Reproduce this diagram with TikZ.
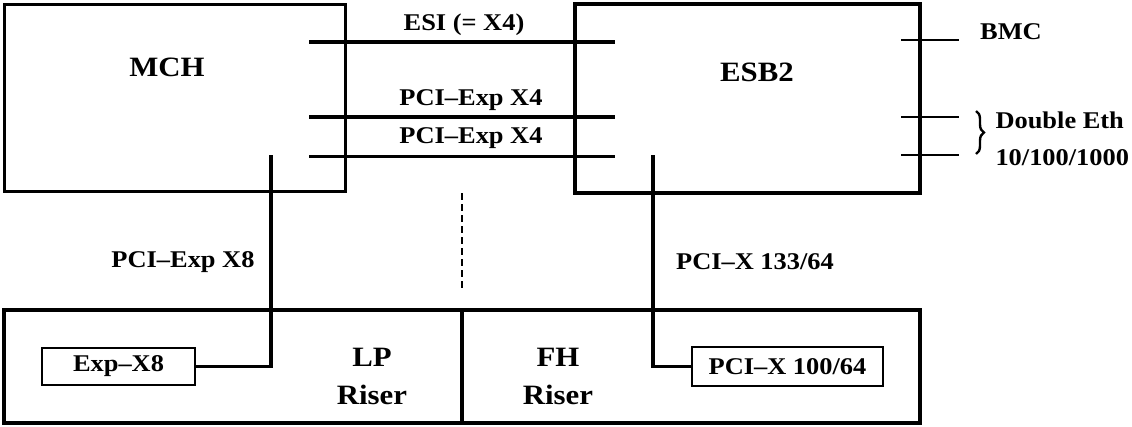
\documentclass[tikz,border=0pt]{standalone}
\usepackage{fontspec}
\setmainfont{Liberation Serif}[FakeStretch=1.1]
\usetikzlibrary{calc,decorations.pathreplacing,positioning}
\tikzset{
  chip/.style={draw, line width=3.5pt, inner sep=0pt},
  card/.style={draw, line width=2pt, inner sep=0pt, font=\bfseries\fontsize{24}{28}\selectfont},
  chip label/.style={font=\bfseries\fontsize{28}{38}\selectfont, align=center},
  bus label/.style={font=\bfseries\fontsize{24}{28}\selectfont},
  bus/.style={line width=3.5pt},
  thin bus/.style={line width=2pt},
}

\begin{document}
\begin{tikzpicture}[x=1pt, y=-1pt]
  \useasboundingbox (0,0) rectangle (1132,426);

  % Chips
  \node[chip, minimum width=341pt, minimum height=187pt] (mch) at (175,98) {};
  \node[chip, minimum width=345pt, minimum height=189pt] (esb) at (747.5,98.5) {};
  \node[chip label] (mchname) at (167,67) {MCH};
  \node[chip label] (esbname) at (757,72) {ESB2};

  % Riser board, split in two halves
  \node[chip, minimum width=458pt, minimum height=113pt] (lp) at (233,366.5) {};
  \node[chip, minimum width=458pt, minimum height=113pt] (fh) at (691,366.5) {};
  \node[chip label] (lpname) at (372,376) {LP\\Riser};
  \node[chip label] (fhname) at (558,376) {FH\\Riser};

  % Slots on the risers
  \node[card, minimum width=153pt, minimum height=37pt] (expslot) at (118.5,366.5) {Exp--X8};
  \node[card, minimum width=191pt, minimum height=39pt] (pcixslot) at (787.5,366.5) {PCI--X 100/64};

  % Links between MCH and ESB2
  \coordinate (esiL) at (309,42);   \coordinate (esiR) at (615,42);
  \coordinate (pcieL) at (309,117); \coordinate (pcieR) at (615,117);
  \coordinate (pcieL') at (309,156); \coordinate (pcieR') at (615,156);
  \draw[bus] (esiL) -- (esiR);
  \draw[bus] (pcieL) -- (pcieR);
  \draw[bus, line width=3pt] (pcieL') -- (pcieR');
  \node[bus label] (esilabel) at (464,25) {ESI (= X4)};
  \node[bus label] (pcielabel) at (471,100) {PCI--Exp X4};
  \node[bus label] (pcielabel') at (471,138) {PCI--Exp X4};

  % Links down to the slots
  \coordinate (mchdown) at (271,155);
  \coordinate (esbdown) at (653,155);
  \draw[bus] (mchdown) |- (expslot.east);
  \draw[bus] (esbdown) |- (pcixslot.west);
  \node[bus label] (x8label) at (183,262) {PCI--Exp X8};
  \node[bus label] (pcixlabel) at (755,262) {PCI--X 133/64};

  % Dashed divider
  \coordinate (cutT) at (462,193);
  \coordinate (cutB) at (462,290);
  \draw[line width=1.8pt, dash pattern=on 7pt off 4pt] (cutT) -- (cutB);

  % Outputs on the right of ESB2
  \foreach \name/\yy in {bmc/40, ethA/117, ethB/155} {
    \coordinate (\name L) at (901,\yy);
    \coordinate (\name R) at (959,\yy);
    \draw[thin bus] (\name L) -- (\name R);
  }
  \node[bus label] (bmclabel) at (1011,32) {BMC};
  \coordinate (braceT) at (976,111);
  \coordinate (braceB) at (976,154);
  \draw[line width=2.4pt, decorate, decoration={brace, amplitude=8pt}] (braceT) -- (braceB);
  \node[bus label, anchor=west] (ethlabel) at (992,120) {Double Eth};
  \node[bus label, anchor=west] (ethspeed) at (992,158) {10/100/1000};

\end{tikzpicture}
\end{document}
